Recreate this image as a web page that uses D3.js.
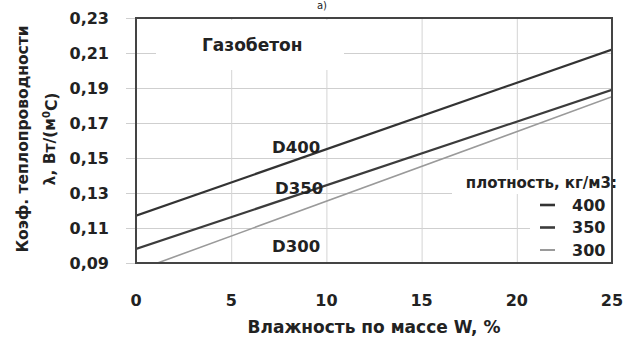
<!DOCTYPE html>
<html>
<head>
<meta charset="utf-8">
<script src="https://cdn.jsdelivr.net/npm/d3@7"></script>
<style>
  html, body { margin: 0; padding: 0; background: #fff; }
  svg { display: block; }
  text { font-family: "DejaVu Sans", "Open Sans", sans-serif; fill: #222; }
</style>
</head>
<body>
<svg id="chart" width="643" height="345"></svg>
<script>
// Moisture content by mass, %
const moisture = [0, 25];
// Thermal conductivity, W/(m·°C), for each density grade at W = 0 and W = 25
const grades = ["D400", "D350", "D300"];
const densities = ["400", "350", "300"];
const lambda400 = [0.117, 0.212];
const lambda350 = [0.098, 0.189];
const lambda300 = [0.0855, 0.185];
const xTicks = [0, 5, 10, 15, 20, 25];
const yTicks = [0.09, 0.11, 0.13, 0.15, 0.17, 0.19, 0.21, 0.23];

const seriesValues = [lambda400, lambda350, lambda300];
const lineColors = ["#333", "#3c3c3c", "#9a9a9a"];
const lineWidths = [2.2, 2.2, 1.6];

const svg = d3.select("#chart");
const m = { left: 136, right: 31, top: 18, bottom: 82 };
const W = 643, H = 345;
const x = d3.scaleLinear().domain([0, 25]).range([m.left, W - m.right]);
const y = d3.scaleLinear().domain([0.09, 0.23]).range([H - m.bottom, m.top]);
const fmt = d => d3.format(".2f")(d).replace(".", ",");

// grid lines (horizontal ones also run out past the frame as tick marks)
svg.append("g")
  .attr("transform", `translate(${m.left},0)`)
  .call(d3.axisLeft(y).tickValues(yTicks).tickSize(-(W - m.left - m.right)).tickSizeOuter(0).tickFormat(""))
  .call(g => g.select(".domain").remove())
  .call(g => g.selectAll("line").attr("stroke", "#cfcfcf").attr("x1", -10));
svg.append("g")
  .attr("transform", `translate(0,${H - m.bottom})`)
  .call(d3.axisBottom(x).tickValues(xTicks.slice(1, -1)).tickSize(-(H - m.top - m.bottom)).tickFormat(""))
  .call(g => g.select(".domain").remove())
  .call(g => g.selectAll("line").attr("stroke", "#d4d4d4"));

// white panels behind the title and the legend
svg.append("rect").attr("x", 156).attr("y", m.top + 2).attr("width", 188).attr("height", 50).attr("fill", "#fff");
svg.append("rect").attr("x", 452).attr("y", 170).attr("width", W - m.right - 453).attr("height", 24).attr("fill", "#fff");
svg.append("rect").attr("x", 530).attr("y", 194).attr("width", W - m.right - 531).attr("height", H - m.bottom - 195).attr("fill", "#fff");

// series lines, clipped to the plot frame
svg.append("clipPath").attr("id", "plot")
  .append("rect").attr("x", m.left).attr("y", m.top)
  .attr("width", W - m.left - m.right).attr("height", H - m.top - m.bottom);
const line = d3.line().x((d, i) => x(moisture[i])).y(d => y(d));
svg.append("g").attr("clip-path", "url(#plot)")
  .selectAll("path").data(seriesValues).join("path")
  .attr("d", line)
  .attr("fill", "none")
  .attr("stroke", (d, i) => lineColors[i])
  .attr("stroke-width", (d, i) => lineWidths[i]);

// frame
svg.append("rect").attr("x", m.left).attr("y", m.top)
  .attr("width", W - m.left - m.right).attr("height", H - m.top - m.bottom)
  .attr("fill", "none").attr("stroke", "#444").attr("stroke-width", 2);

// tick labels
svg.append("g").selectAll("text").data(yTicks).join("text")
  .attr("x", 109).attr("y", d => y(d)).attr("dy", "0.36em")
  .attr("text-anchor", "end").attr("font-size", 16).attr("font-weight", 700).text(fmt);
svg.append("g").selectAll("text").data(xTicks).join("text")
  .attr("x", d => x(d)).attr("y", 300).attr("dy", "0.36em")
  .attr("text-anchor", "middle").attr("font-size", 16).attr("font-weight", 700).text(d => d);

// axis titles
svg.append("text").attr("x", 374).attr("y", 327).attr("dy", "0.36em")
  .attr("text-anchor", "middle").attr("font-size", 17).attr("font-weight", 700).text("Влажность по массе W, %");
const yt = svg.append("g").attr("transform", "translate(22,139) rotate(-90)");
yt.append("text").attr("dy", "0.36em").attr("text-anchor", "middle").attr("font-size", 15.5).attr("font-weight", 700)
  .text("Коэф. теплопроводности");
const yt2 = yt.append("text").attr("y", 27).attr("dy", "0.36em").attr("text-anchor", "middle").attr("font-size", 15.5).attr("font-weight", 700);
yt2.append("tspan").text("λ, Вт/(м");
yt2.append("tspan").attr("font-size", 10).attr("dy", "-0.5em").text("0");
yt2.append("tspan").attr("dy", "0.5em").text("С)");

// panel caption above the frame
svg.append("text").attr("x", 322).attr("y", 9).attr("text-anchor", "middle").attr("font-size", 10)
  .attr("font-weight", 400).attr("fill", "#555").text("а)");

// in-plot labels
svg.append("text").attr("x", 202).attr("y", 45).attr("dy", "0.36em").attr("font-size", 17).attr("font-weight", 700).text("Газобетон");
const labelY = [0.156, 0.133, 0.0997];
svg.append("g").selectAll("text").data(grades).join("text")
  .attr("x", (d, i) => i === 1 ? 275 : 272).attr("y", (d, i) => y(labelY[i])).attr("dy", "0.36em")
  .attr("font-size", 16.5).attr("font-weight", 700).text(d => d);

// legend
svg.append("text").attr("x", 617).attr("y", 183).attr("dy", "0.36em").attr("text-anchor", "end")
  .attr("font-size", 15).attr("font-weight", 700).text("плотность, кг/м3:");
const lg = svg.append("g").selectAll("g").data(densities).join("g")
  .attr("transform", (d, i) => `translate(0,${205 + i * 22.5})`);
lg.append("line").attr("x1", 540).attr("x2", 555)
  .attr("stroke", (d, i) => lineColors[i]).attr("stroke-width", (d, i) => lineWidths[i] + 0.4);
lg.append("text").attr("x", 572).attr("dy", "0.36em").attr("font-size", 16).attr("font-weight", 700).text(d => d);
</script>
</body>
</html>
